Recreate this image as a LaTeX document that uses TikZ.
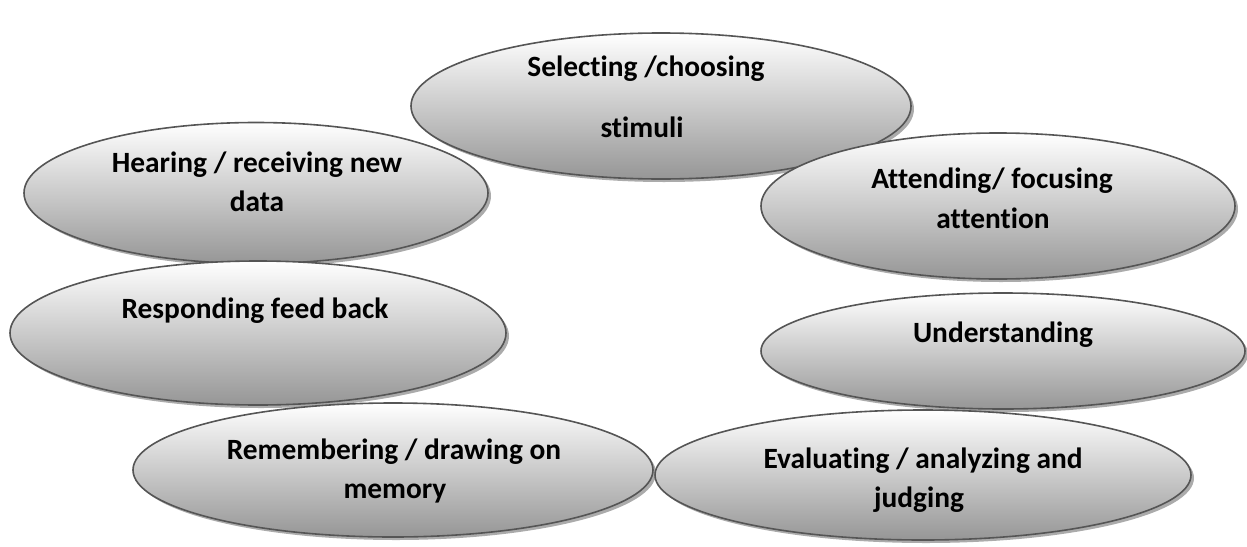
\documentclass[tikz,border=0pt]{standalone}
\usepackage{fontspec}
\setmainfont{Carlito}[Ligatures=NoCommon]
\usetikzlibrary{shapes.geometric,shadows}

\definecolor{rimgray}{RGB}{85,85,85}
\definecolor{lowgray}{RGB}{150,150,150}
\definecolor{shadowgray}{RGB}{150,150,150}

\tikzset{
  bubble/.style={ellipse, draw=rimgray, line width=1.6pt, inner sep=0pt,
    top color=white, bottom color=lowgray,
    drop shadow={shadow xshift=3pt, shadow yshift=-3pt, fill=shadowgray, opacity=0.8}},
  caption/.style={anchor=base, inner sep=0pt,
    font=\fontsize{29.4}{35}\selectfont\bfseries}
}

\begin{document}
\begin{tikzpicture}[x=1pt, y=-1pt]
  \useasboundingbox (0,0) rectangle (1247,546);

  % the seven stages, each an oval
  \node[bubble, minimum width=500pt, minimum height=146pt] (select) at (661,106) {};
  \node[bubble, minimum width=464pt, minimum height=141pt] (hear)   at (256,193) {};
  \node[bubble, minimum width=474pt, minimum height=146pt] (attend) at (998,206) {};
  \node[bubble, minimum width=496pt, minimum height=144pt] (respond) at (258,333) {};
  \node[bubble, minimum width=484pt, minimum height=116pt] (underst) at (1003,351) {};
  \node[bubble, minimum width=520pt, minimum height=134pt] (remember) at (393,470) {};
  \node[bubble, minimum width=536pt, minimum height=130pt] (evaluate) at (923,475) {};

  % their captions
  \node[caption] (select1)   at (646,76)  {Selecting /choosing};
  \node[caption] (select2)   at (642,137) {stimuli};
  \node[caption] (hear1)     at (257,172) {Hearing / receiving new};
  \node[caption] (hear2)     at (257,211) {data};
  \node[caption] (attend1)   at (992,188) {Attending/ focusing};
  \node[caption] (attend2)   at (993,228) {attention};
  \node[caption] (respond1)  at (255,318) {Responding feed back};
  \node[caption] (underst1)  at (1003,342) {Understanding};
  \node[caption] (remember1) at (394,459) {Remembering / drawing on};
  \node[caption] (remember2) at (395,498) {memory};
  \node[caption] (evaluate1) at (923,468) {Evaluating / analyzing and};
  \node[caption] (evaluate2) at (919,507) {judging};
\end{tikzpicture}
\end{document}
